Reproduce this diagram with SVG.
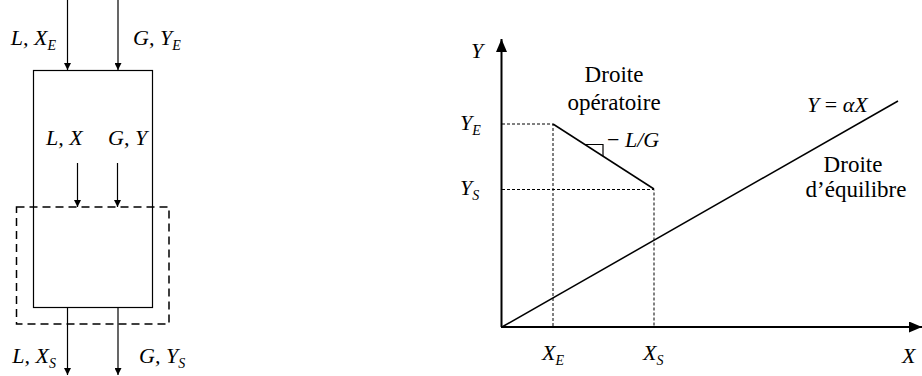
<svg xmlns="http://www.w3.org/2000/svg" width="922" height="376" viewBox="0 0 922 376">
<style>
.m{font-style:italic;font-size:22px;fill:#000}
.s{font-size:14px}
.t{font-size:23px;fill:#000}
.ln{stroke:#000;stroke-width:1.2;fill:none}
.ax{stroke:#000;stroke-width:2;fill:none}
.dl{stroke:#000;stroke-width:1;stroke-dasharray:3,2;fill:none}
</style>
<defs>
<marker id="a" viewBox="0 0 10 10" refX="10" refY="5" markerWidth="7" markerHeight="7" markerUnits="userSpaceOnUse" orient="auto"><path d="M0,0L10,5L0,10z" fill="#000"/></marker>
<marker id="b" viewBox="0 0 10 10" refX="10" refY="5" markerWidth="13" markerHeight="11" markerUnits="userSpaceOnUse" orient="auto" preserveAspectRatio="none"><path d="M0,0L10,5L0,10z" fill="#000"/></marker>
</defs>
<g id="column">
<rect x="33.5" y="70.5" width="119" height="237" class="ln"/>
</g>
<g id="control-volume">
<rect x="16.5" y="207" width="152.5" height="117" fill="none" stroke="#000" stroke-width="1.5" stroke-dasharray="8,5"/>
</g>
<g id="connectors">
<line x1="67.5" y1="0" x2="67.5" y2="70" class="ln" marker-end="url(#a)"/>
<line x1="118" y1="0" x2="118" y2="70" class="ln" marker-end="url(#a)"/>
<line x1="77.5" y1="163" x2="77.5" y2="207" class="ln" marker-end="url(#a)"/>
<line x1="117.5" y1="163" x2="117.5" y2="207" class="ln" marker-end="url(#a)"/>
<line x1="67.5" y1="308" x2="67.5" y2="375" class="ln" marker-end="url(#a)"/>
<line x1="118" y1="308" x2="118" y2="375" class="ln" marker-end="url(#a)"/>
</g>
<g id="labels-left" font-family="Liberation Serif, Times New Roman, serif">
<text class="m" x="56" y="45" text-anchor="end">L, X<tspan class="s" dy="5">E</tspan></text>
<text class="m" x="133" y="45">G, Y<tspan class="s" dy="5">E</tspan></text>
<text class="m" x="46" y="145">L, X</text>
<text class="m" x="108" y="145">G, Y</text>
<text class="m" x="56" y="363" text-anchor="end">L, X<tspan class="s" dy="5">S</tspan></text>
<text class="m" x="139" y="363">G, Y<tspan class="s" dy="5">S</tspan></text>
</g>
<g id="axes">
<line x1="501.5" y1="327" x2="501.5" y2="39" class="ax" marker-end="url(#b)"/>
<line x1="501" y1="327" x2="922" y2="327" class="ax" marker-end="url(#b)"/>
</g>
<g id="guides">
<polyline points="502,124 553,124 553,327" class="dl"/>
<polyline points="502,189.5 654,189.5 654,327" class="dl"/>
</g>
<g id="operating-line">
<line x1="553" y1="124" x2="654" y2="189" stroke="#000" stroke-width="1.5"/>
<polyline points="585,144.5 603,144.5 603,156" stroke="#000" stroke-width="1.2" fill="none"/>
</g>
<g id="equilibrium-line">
<line x1="502" y1="327" x2="898" y2="101" stroke="#000" stroke-width="1.5"/>
</g>
<g id="labels-right" font-family="Liberation Serif, Times New Roman, serif">
<text class="m" x="471" y="58">Y</text>
<text class="m" x="460" y="130">Y<tspan class="s" dy="5">E</tspan></text>
<text class="m" x="460" y="195">Y<tspan class="s" dy="5">S</tspan></text>
<text class="t" x="614" y="82" text-anchor="middle">Droite</text>
<text class="t" x="614" y="110" text-anchor="middle">opératoire</text>
<text class="m" x="607" y="147"><tspan style="font-style:normal">− </tspan>L/G</text>
<text class="m" x="807" y="112">Y<tspan style="font-style:normal"> = </tspan>αX</text>
<text class="t" x="853" y="172" text-anchor="middle">Droite</text>
<text class="t" x="856" y="197" text-anchor="middle">d’équilibre</text>
<text class="m" x="542" y="360">X<tspan class="s" dy="5">E</tspan></text>
<text class="m" x="643" y="360">X<tspan class="s" dy="5">S</tspan></text>
<text class="m" x="902" y="363">X</text>
</g>
</svg>
